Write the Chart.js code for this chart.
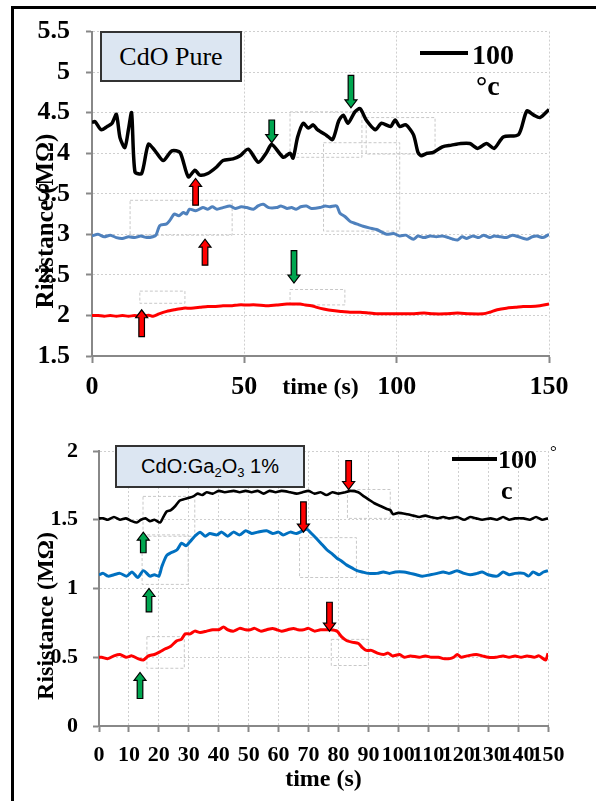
<!DOCTYPE html>
<html>
<head>
<meta charset="utf-8">
<script src="https://cdn.jsdelivr.net/npm/chart.js@4.4.1/dist/chart.umd.min.js"></script>
<style>
  html, body { margin:0; padding:0; background:#fff; }
  body { width:596px; height:801px; position:relative; overflow:hidden;
         font-family:"Liberation Serif","Times New Roman",serif; }
  canvas { position:absolute; left:0; }
  #chartTop { top:0; }
  #chartBot { top:400px; }
  .frame { position:absolute; left:11px; top:6px; width:700px; height:900px;
           border-left:3px solid #000; border-top:3px solid #000; }
  .tbox  { position:absolute; background:#dce6f2; border:2px solid #333; box-sizing:border-box;
           display:flex; align-items:center; justify-content:center; color:#000; }
  .tbox sub { font-size:13px; vertical-align:-4px; line-height:0; }
  .ytitle { position:absolute; font-weight:bold; white-space:nowrap; color:#000;
            transform:translate(-50%,-50%) rotate(-90deg); }
  .lg-line { position:absolute; background:#000; }
  .lg-txt  { position:absolute; font-weight:bold; color:#000; white-space:nowrap; }
</style>
</head>
<body>
<canvas id="chartTop" width="596" height="400"></canvas>
<canvas id="chartBot" width="596" height="401"></canvas>

<div class="frame"></div>

<!-- top panel labels -->
<div class="tbox" style="left:100px;top:31px;width:142px;height:51px;font-size:26px;">CdO Pure</div>
<div class="lg-line" style="left:420px;top:51px;width:48px;height:4px;"></div>
<div class="lg-txt" style="left:472px;top:41px;font-size:28px;line-height:28px;">100</div>
<div class="lg-txt" style="left:476px;top:72px;font-size:28px;line-height:28px;">°c</div>
<div class="ytitle" style="left:45px;top:221px;font-size:25px;">Risistance (MΩ)</div>

<!-- bottom panel labels -->
<div class="tbox" style="left:115px;top:445px;width:190px;height:43px;font-size:20px;font-family:'Liberation Sans',Arial,sans-serif;"><span>CdO:Ga<sub>2</sub>O<sub>3</sub> 1%</span></div>
<div class="lg-line" style="left:452px;top:457px;width:45px;height:4px;"></div>
<div class="lg-txt" style="left:498px;top:447px;font-size:26px;line-height:26px;">100</div>
<div class="lg-txt" style="left:550px;top:443px;font-size:17px;line-height:17px;font-weight:normal;">°</div>
<div class="lg-txt" style="left:501px;top:478px;font-size:26px;line-height:26px;">c</div>
<div class="ytitle" style="left:45px;top:616px;font-size:24px;">Risistance (MΩ)</div>

<script>
// ── Data: CdO pure (top panel) ─────────────────────────────────
const pureBlackT = [0,1,3,5,6.6,8,9.2,10.8,12,13,14.1,16.3,18.5,20.7,23.4,26.2,28.9,31.6,33.8,35.4,38,40.9,43,46.3,48.6,51.3,54.6,57.3,59,62.8,65,66,67.5,69.3,71,72.6,74,77,79,81,82.5,84,86.3,88,90,93,95,98,99.5,101,103,105.5,107,108,110,112,115,118,121,124,126.6,129.5,132,135,140,142.7,145,147,150];
const pureBlackV = [4.38,4.39,4.29,4.33,4.37,4.48,4.19,4.07,4.3,4.5,3.77,3.75,4.11,4.03,3.91,4.03,4.01,3.71,3.79,3.73,3.75,3.83,3.91,3.93,3.97,4.05,3.89,4.01,4.11,3.95,4.0,3.94,4.2,4.37,4.31,4.35,4.29,4.22,4.17,4.4,4.47,4.37,4.51,4.55,4.41,4.29,4.37,4.33,4.41,4.33,4.35,4.23,4.01,3.97,4.0,4.01,4.08,4.1,4.12,4.12,4.06,4.12,4.06,4.2,4.23,4.52,4.47,4.44,4.54];

const pureBlueT = [0,2,4,6,8,10,12,14,16,18,20,21,22.3,24.5,25.5,27,28.5,30,31,32,34,36.4,38,39.5,41,43,45.3,47,49,50.8,53,54.5,56.2,58,60.6,62,64,65.5,67,68.5,70.4,72,74.8,76.5,78,80.3,81.4,83,84.7,86,87.5,89,91,93.4,95,96.7,99,101,103,105.5,107,109,111,113,115,117,118.5,120,121.5,123,125,127,128.5,130.6,132,134,136,138,140,142.7,144.5,146,148,150];
const pureBlueV = [2.98,3.0,2.97,2.99,2.96,2.95,2.97,2.96,2.98,2.96,2.97,2.99,3.11,3.13,3.17,3.25,3.23,3.27,3.25,3.31,3.29,3.33,3.31,3.34,3.31,3.33,3.35,3.32,3.34,3.33,3.31,3.35,3.37,3.33,3.33,3.35,3.32,3.33,3.31,3.34,3.35,3.32,3.33,3.35,3.34,3.35,3.26,3.22,3.16,3.14,3.12,3.1,3.08,3.06,3.03,3.0,3.01,2.98,2.99,2.94,2.98,2.96,2.98,2.97,2.98,2.96,2.94,2.93,2.97,2.95,2.98,2.96,2.99,2.96,2.98,2.97,2.96,2.99,2.97,2.94,2.97,2.98,2.96,3.0];

const pureRedT = [0,2,4,6,8,10,12,14,16,18,19,20,22,24.5,27,30,32.5,35.4,38,40,43,46,48,50.8,54,57,60.6,64,66,68.3,70,72,73.8,76,79,82,84.7,88,91,94,98,102,105,109,112,116,120,124,128.5,130.6,133,136,139,141.5,144,147,150];
const pureRedV = [2.0,2.0,1.99,2.0,1.99,2.0,1.99,2.0,1.99,2.0,2.0,1.99,2.02,2.05,2.07,2.09,2.09,2.1,2.11,2.11,2.12,2.12,2.13,2.13,2.13,2.12,2.13,2.14,2.14,2.14,2.13,2.12,2.1,2.08,2.06,2.05,2.04,2.04,2.03,2.02,2.02,2.02,2.02,2.03,2.02,2.02,2.03,2.02,2.02,2.04,2.07,2.09,2.1,2.11,2.11,2.12,2.14];

// ── Data: CdO:Ga2O3 1% (bottom panel) ──────────────────────────
const gaBlackT = [0,1.4,3,5,7,9,11,12.6,14,15.5,17,18.5,20.4,21.5,22.6,24,25.5,27,28.5,30,31.5,33,34.5,36,38,40,42,45,47,49,51,53,55,57,59,61,63.9,66,68,70,72,74,76,78,80,82.3,84,86.6,88.5,90.6,92,94,96,97.3,98.3,100,103,105,107,109,110.7,113,115,117,119.6,122,124,126,128,130.8,133,135,137,139,141.8,144,146,148,150];
const gaBlackV = [1.51,1.51,1.5,1.52,1.5,1.51,1.49,1.48,1.5,1.51,1.49,1.5,1.48,1.52,1.56,1.57,1.6,1.64,1.65,1.66,1.67,1.69,1.68,1.7,1.69,1.71,1.7,1.71,1.7,1.71,1.7,1.71,1.69,1.71,1.7,1.71,1.7,1.69,1.7,1.71,1.69,1.7,1.68,1.7,1.69,1.7,1.71,1.7,1.67,1.64,1.62,1.6,1.58,1.57,1.54,1.55,1.54,1.53,1.52,1.53,1.52,1.51,1.52,1.51,1.52,1.5,1.52,1.51,1.5,1.51,1.5,1.52,1.5,1.51,1.51,1.5,1.52,1.5,1.51];

const gaBlueT = [0,1.4,3,5,7,9.3,11,13,14.8,17,18.5,20,21,22.6,24,26,27.6,29,30.4,32,33.8,35.5,37,39.4,41,43,44.9,47,49,51,53,56,58,60,61.5,63.9,66,68,69.5,71,72.8,74.5,76.2,78,79.5,81,82.8,84.5,86.2,88,90,92.9,95,97,99,101.8,104,106,108,110.7,113,115,117,119.6,122,124,126.3,128,130,133,135,137,139,141.9,143.5,145,147,148.5,150];
const gaBlueV = [1.1,1.11,1.09,1.1,1.11,1.09,1.12,1.08,1.13,1.09,1.1,1.09,1.16,1.24,1.26,1.28,1.33,1.31,1.34,1.38,1.41,1.38,1.4,1.39,1.41,1.38,1.41,1.39,1.42,1.4,1.41,1.42,1.4,1.41,1.39,1.41,1.4,1.42,1.43,1.4,1.36,1.32,1.28,1.25,1.22,1.2,1.17,1.15,1.13,1.12,1.11,1.11,1.12,1.11,1.12,1.12,1.11,1.1,1.09,1.1,1.11,1.12,1.11,1.13,1.11,1.1,1.11,1.12,1.1,1.09,1.12,1.1,1.11,1.11,1.09,1.12,1.1,1.12,1.13];

const gaRedT = [0,0.9,3,5,7,9,11,13,14.8,16.5,18.5,20.4,22,24,26,27.5,28.8,30.5,32,33.8,36,38,40,41.6,43,45,47,49,50.5,52,54,56,58,59.4,61,63,65,66.5,68.3,70,72,74,75.5,77.3,79.5,81,82.8,84.5,86.7,88,89.3,91,93,95,96.6,98,100.4,102,104,107,109,111,113.4,115,117.2,118.5,119.7,121,123,126,128,130,132.6,135,137,139,141,143,145.4,147,149.2,150];
const gaRedV = [0.5,0.5,0.49,0.51,0.52,0.5,0.51,0.49,0.48,0.51,0.52,0.54,0.56,0.58,0.62,0.63,0.67,0.67,0.69,0.68,0.69,0.7,0.7,0.72,0.7,0.69,0.71,0.7,0.7,0.71,0.69,0.7,0.71,0.7,0.69,0.7,0.71,0.7,0.7,0.71,0.69,0.7,0.7,0.7,0.69,0.65,0.62,0.61,0.6,0.57,0.55,0.55,0.53,0.52,0.53,0.51,0.52,0.5,0.51,0.5,0.51,0.5,0.5,0.49,0.49,0.5,0.52,0.5,0.51,0.52,0.51,0.5,0.5,0.51,0.5,0.51,0.5,0.51,0.5,0.51,0.48,0.53];

// ── Annotations (time, tail value, tip value) ──────────────────
const pureArrows = [
  { t:34,   from:3.36, to:3.69, color:'#ff0000' },
  { t:37.1, from:2.62, to:2.94, color:'#ff0000' },
  { t:16.3, from:1.74, to:2.07, color:'#ff0000' },
  { t:59,   from:4.41, to:4.13, color:'#00a650' },
  { t:66.3, from:2.80, to:2.40, color:'#00a650' },
  { t:85,   from:4.96, to:4.56, color:'#00a650' }
];
const gaArrows = [
  { t:14.8, from:1.26, to:1.41, color:'#00a650' },
  { t:16.7, from:0.83, to:1.00, color:'#00a650' },
  { t:13.7, from:0.20, to:0.39, color:'#00a650' },
  { t:68.3, from:1.63, to:1.41, color:'#ff0000' },
  { t:83.4, from:1.93, to:1.72, color:'#ff0000' },
  { t:77,   from:0.90, to:0.69, color:'#ff0000' }
];
// leftover zoom frames (t1, t2, v1, v2)
const pureBoxes = [[12.5,46,2.99,3.42],[15.7,30.5,2.15,2.30],[65,83,2.13,2.32],[65,88.6,3.95,4.51],[76,101,3.04,4.13],[90,112.6,3.99,4.44]];
const gaBoxes   = [[14.7,32,1.38,1.67],[14.4,29.8,1.03,1.39],[16,28.5,0.42,0.65],[67,86,1.08,1.37],[77.6,90,0.44,0.63],[83,97.3,1.51,1.72]];

const SERIF = '"Liberation Serif","Times New Roman",serif';

function _pts(ts, vs) { return ts.map((t, i) => ({ x: t, y: vs[i] })); }

function _drawArrow(ctx, px, p1, p2, color) {
  const dir = p2 > p1 ? 1 : -1;
  const sw = 2.8, hw = 6, hl = 8;
  const neck = p2 - dir * hl;
  ctx.beginPath();
  ctx.moveTo(px - sw, p1);
  ctx.lineTo(px - sw, neck);
  ctx.lineTo(px - hw, neck);
  ctx.lineTo(px, p2);
  ctx.lineTo(px + hw, neck);
  ctx.lineTo(px + sw, neck);
  ctx.lineTo(px + sw, p1);
  ctx.closePath();
  ctx.fillStyle = color;
  ctx.fill();
  ctx.lineWidth = 1.2;
  ctx.strokeStyle = '#000';
  ctx.stroke();
}

function _marksPlugin(arrows, boxes) {
  return {
    id: 'marks',
    beforeDatasetsDraw(chart) {
      const { ctx, scales: { x, y } } = chart;
      ctx.save();
      ctx.strokeStyle = '#c8c8c8';
      ctx.lineWidth = 1;
      ctx.setLineDash([3, 2]);
      boxes.forEach(b => {
        const x1 = x.getPixelForValue(b[0]), x2 = x.getPixelForValue(b[1]);
        const y1 = y.getPixelForValue(b[2]), y2 = y.getPixelForValue(b[3]);
        ctx.strokeRect(x1, y2, x2 - x1, y1 - y2);
      });
      ctx.restore();
    },
    afterDatasetsDraw(chart) {
      const { ctx, scales: { x, y } } = chart;
      ctx.save();
      arrows.forEach(a => _drawArrow(ctx, x.getPixelForValue(a.t), y.getPixelForValue(a.from), y.getPixelForValue(a.to), a.color));
      ctx.restore();
    }
  };
}

function _axisStyle(tickLen) {
  return {
    grid:   { color:'#cfcfcf', lineWidth:1, tickLength:tickLen, tickColor:'#888', tickWidth:2, tickBorderDash:[] },
    border: { color:'#888', width:2, dash:[2,2] }
  };
}

function _line(label, data, color, width) {
  return { label, data, borderColor: color, borderWidth: width, pointRadius: 0, tension: 0.25, fill: false };
}

// ── Top panel ──────────────────────────────────────────────────
new Chart(document.getElementById('chartTop'), {
  type: 'line',
  data: {
    datasets: [
      _line('100 °c', _pts(pureBlackT, pureBlackV), '#000000', 3.5),
      _line('blue',   _pts(pureBlueT,  pureBlueV),  '#4f81bd', 3),
      _line('red',    _pts(pureRedT,   pureRedV),   '#ff0000', 3)
    ]
  },
  options: {
    responsive: false, animation: false,
    layout: { padding: { left:0, right:47, top:25, bottom:0 } },
    plugins: { legend: { display:false }, tooltip: { enabled:false } },
    scales: {
      x: {
        type:'linear', min:0, max:150,
        afterFit: s => { s.height = 44; },
        ticks: { stepSize:50, autoSkip:false, maxRotation:0, padding:9, color:'#000',
                 font:{ family:SERIF, size:26, weight:'bold' } },
        ..._axisStyle(7),
        title: { display:true, text:'time (s)', color:'#000', padding:0,
                 font:{ family:SERIF, size:24, weight:'bold', lineHeight:1 } }
      },
      y: {
        min:1.5, max:5.5,
        afterFit: s => { s.width = 92; },
        ticks: { stepSize:0.5, padding:16, color:'#000', callback: v => String(v),
                 font:{ family:SERIF, size:26, weight:'bold' } },
        ..._axisStyle(6)
      }
    }
  },
  plugins: [_marksPlugin(pureArrows, pureBoxes)]
});

// ── Bottom panel ───────────────────────────────────────────────
new Chart(document.getElementById('chartBot'), {
  type: 'line',
  data: {
    datasets: [
      _line('100 °c', _pts(gaBlackT, gaBlackV), '#000000', 2.6),
      _line('blue',   _pts(gaBlueT,  gaBlueV),  '#0070c0', 3),
      _line('red',    _pts(gaRedT,   gaRedV),   '#ff0000', 3)
    ]
  },
  options: {
    responsive: false, animation: false,
    layout: { padding: { left:0, right:48, top:51, bottom:0 } },
    plugins: { legend: { display:false }, tooltip: { enabled:false } },
    scales: {
      x: {
        type:'linear', min:0, max:150,
        afterFit: s => { s.height = 75; },
        ticks: { stepSize:10, autoSkip:false, maxRotation:0, minRotation:0, padding:10, color:'#000',
                 font:{ family:SERIF, size:22, weight:'bold' } },
        ..._axisStyle(6),
        title: { display:true, text:'time (s)', color:'#000', padding:{ top:0, bottom:9 },
                 font:{ family:SERIF, size:24, weight:'bold', lineHeight:1 } }
      },
      y: {
        min:0, max:2,
        afterFit: s => { s.width = 99; },
        ticks: { stepSize:0.5, padding:15, color:'#000', callback: v => String(v),
                 font:{ family:SERIF, size:22, weight:'bold' } },
        ..._axisStyle(6)
      }
    }
  },
  plugins: [_marksPlugin(gaArrows, gaBoxes)]
});
</script>
</body>
</html>
